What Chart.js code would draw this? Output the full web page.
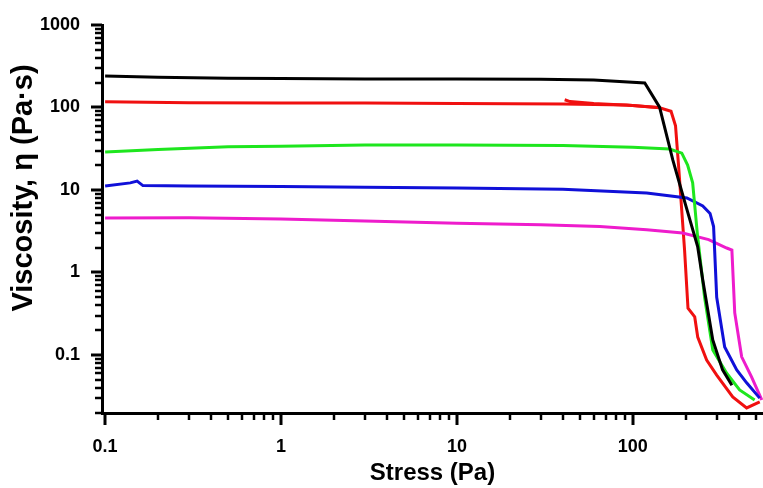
<!DOCTYPE html>
<html>
<head>
<meta charset="utf-8">
<script src="https://cdn.jsdelivr.net/npm/chart.js@4/dist/chart.umd.min.js"></script>
<style>
  html, body { margin: 0; padding: 0; background: #fff; }
  #wrap { width: 763px; height: 488px; }
</style>
</head>
<body>
<div id="wrap"><canvas id="viscChart" width="763" height="488"></canvas></div>
<script>
// Tick labels
const xTickLabels = ['0.1', '1', '10', '100'];
const yTickLabels = ['0.1', '1', '10', '100', '1000'];

// Black sample
const blackStress = [0.1, 0.2, 0.5, 1, 3, 10, 30, 60, 117, 142, 169, 200, 234, 250, 285, 324, 366];
const blackVisc   = [241, 232, 226, 224, 222, 222, 220, 215, 198, 101, 23, 6.5, 2.04, 0.81, 0.152, 0.066, 0.043];

// Red sample (two overlapping runs)
const redStress = [0.1, 0.3, 1, 3, 10, 40, 92, 142, 165, 175, 182, 197, 206, 225, 234, 263, 300, 370, 444, 527];
const redVisc   = [117, 114, 113, 113, 112, 110, 107, 99, 90, 60, 20, 1.87, 0.37, 0.289, 0.165, 0.087, 0.057, 0.031, 0.0228, 0.027];
const red2Stress = [41, 44, 60, 100, 140];
const red2Visc   = [124, 118, 112, 106, 100];

// Green sample
const greenStress = [0.1, 0.2, 0.5, 1, 3, 10, 40, 100, 162, 190, 205, 219, 233, 256, 285, 342, 405, 493];
const greenVisc   = [28.9, 31, 33.5, 34, 35, 35, 34.5, 33, 31.4, 28, 20, 12.2, 2.9, 0.50, 0.115, 0.06, 0.0377, 0.0285];

// Blue sample
const blueStress = [0.1, 0.139, 0.152, 0.164, 0.3, 1, 3, 10, 40, 120, 203, 250, 275, 288, 292, 300, 333, 390, 444, 527];
const blueVisc   = [11.2, 12.2, 12.8, 11.3, 11.2, 11.0, 10.8, 10.6, 10.2, 9.2, 8.0, 6.4, 5.2, 3.6, 1.87, 0.50, 0.125, 0.066, 0.046, 0.030];

// Magenta sample
const magentaStress = [0.1, 0.3, 1, 3, 10, 30, 65, 120, 192, 270, 342, 366, 380, 416, 474, 541];
const magentaVisc   = [4.58, 4.6, 4.45, 4.2, 3.95, 3.8, 3.6, 3.3, 3.01, 2.5, 1.98, 1.87, 0.323, 0.095, 0.054, 0.0285];

const X_MIN = 0.096, X_MAX = 550;
const Y_MIN = 0.0198, Y_MAX = 1000;

function pairs(xs, ys) {
    return xs.map((x, i) => ({ x: x, y: ys[i] }));
}

function series(xs, ys, color) {
    return {
        data: pairs(xs, ys),
        borderColor: color,
        borderWidth: 3,
        pointRadius: 0,
        tension: 0,
        fill: false
    };
}

// all 1..9 x 10^n positions inside the range
function logTicks(min, max) {
    const out = [];
    for (let e = Math.floor(Math.log10(min)); e <= Math.ceil(Math.log10(max)); e++) {
        for (let m = 1; m <= 9; m++) {
            const v = parseFloat((m * Math.pow(10, e)).toPrecision(6));
            if (v >= min && v <= max) out.push(v);
        }
    }
    return out;
}

function labelFor(list, value) {
    const l = list.find(t => Math.abs(parseFloat(t) - value) < 1e-9 * Math.max(1, value));
    return l === undefined ? '' : l;
}

function isMajor(list, value) {
    return labelFor(list, value) !== '';
}

// draws major/minor tick marks outside the axes
const tickMarks = {
    id: 'tickMarks',
    afterDraw(chart) {
        const ctx = chart.ctx;
        const xs = chart.scales.x, ys = chart.scales.y;
        ctx.save();
        ctx.strokeStyle = '#000';
        logTicks(X_MIN, X_MAX).forEach(v => {
            const px = Math.round(xs.getPixelForValue(v));
            const major = isMajor(xTickLabels, v);
            ctx.lineWidth = major ? 3 : 2.5;
            ctx.beginPath();
            ctx.moveTo(px, xs.top);
            ctx.lineTo(px, xs.top + (major ? 12 : 7));
            ctx.stroke();
        });
        logTicks(Y_MIN, Y_MAX).forEach(v => {
            const py = Math.round(ys.getPixelForValue(v));
            const major = isMajor(yTickLabels, v);
            ctx.lineWidth = major ? 3 : 2.5;
            ctx.beginPath();
            ctx.moveTo(ys.right, py);
            ctx.lineTo(ys.right - (major ? 11 : 7), py);
            ctx.stroke();
        });
        // y axis title
        ctx.translate(24, 188);
        ctx.rotate(-Math.PI / 2);
        ctx.fillStyle = '#000';
        ctx.font = 'bold 29px "Liberation Sans", Arial, sans-serif';
        ctx.textAlign = 'center';
        ctx.textBaseline = 'middle';
        ctx.fillText('Viscosity, η (Pa·s)', 0, 0);
        ctx.restore();
    }
};

const tickFont = { family: '"Liberation Sans", Arial, sans-serif', size: 18, weight: 'bold' };

new Chart(document.getElementById('viscChart').getContext('2d'), {
    type: 'line',
    data: {
        datasets: [
            series(blackStress, blackVisc, '#000000'),
            series(greenStress, greenVisc, '#1ee61e'),
            series(blueStress, blueVisc, '#1010d8'),
            series(magentaStress, magentaVisc, '#ee1ccc'),
            series(redStress, redVisc, '#f01010'),
            series(red2Stress, red2Visc, '#f01010')
        ]
    },
    options: {
        responsive: false,
        animation: false,
        devicePixelRatio: 1,
        layout: { padding: { top: 25, right: 0, left: 0, bottom: 0 } },
        plugins: { legend: { display: false }, tooltip: { enabled: false } },
        scales: {
            x: {
                type: 'logarithmic',
                min: X_MIN,
                max: X_MAX,
                afterBuildTicks: s => { s.ticks = logTicks(X_MIN, X_MAX).map(v => ({ value: v })); },
                afterFit: s => { s.height = 75; s.paddingLeft = 0; s.paddingRight = 0; },
                grid: { display: false, drawTicks: false },
                border: { display: true, color: '#000', width: 3 },
                ticks: {
                    autoSkip: false, maxRotation: 0, padding: 23,
                    color: '#000', font: tickFont,
                    callback: v => labelFor(xTickLabels, v)
                },
                title: {
                    display: true, text: 'Stress (Pa)', color: '#000',
                    font: { family: '"Liberation Sans", Arial, sans-serif', size: 24, weight: 'bold' },
                    padding: { top: 0, bottom: 0 }
                }
            },
            y: {
                type: 'logarithmic',
                min: Y_MIN,
                max: Y_MAX,
                afterBuildTicks: s => { s.ticks = logTicks(Y_MIN, Y_MAX).map(v => ({ value: v })); },
                afterFit: s => { s.width = 102; s.paddingTop = 0; s.paddingBottom = 0; },
                grid: { display: false, drawTicks: false },
                border: { display: true, color: '#000', width: 3 },
                ticks: {
                    autoSkip: false, padding: 22,
                    color: '#000', font: tickFont,
                    callback: v => labelFor(yTickLabels, v)
                }
            }
        }
    },
    plugins: [tickMarks]
});
</script>
</body>
</html>
